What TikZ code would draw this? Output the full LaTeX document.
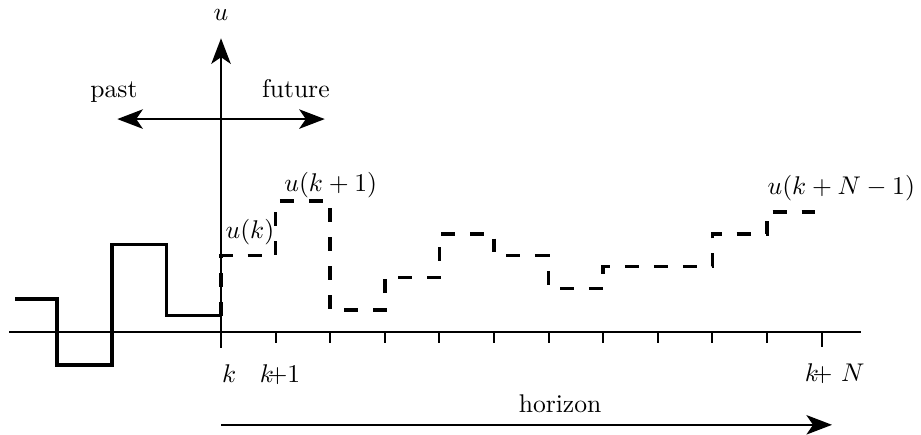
\documentclass[tikz,border=0pt]{standalone}
\usetikzlibrary{arrows.meta}
\tikzset{
  axis/.style={line width=0.8pt},
  tip/.style={-{Stealth[length=10pt,width=7.6pt,inset=2.6pt]}},
  signal/.style={line width=1.4pt},
  predicted/.style={signal,dash pattern=on 5.4pt off 5.9pt}
}
\begin{document}
\begin{tikzpicture}[x=0.75cm,y=0.75cm]
  \useasboundingbox (-4.048,-1.868) rectangle (12.82,6.081);
  % axes and ticks
  \draw[axis] (-3.88,0) -- (11.72,0);
  \coordinate (utop) at (0,5.38);
  \draw[axis,tip] (0,-0.29) -- (utop);
  \foreach \t in {1,...,10}
   \draw[axis] (\t,0) -- (\t,-0.2);
  \draw[axis] (11,0) -- (11,-0.28);
  % past and future
  \coordinate (pastend) at (-1.9,3.9);
  \coordinate (futend) at (1.9,3.9);
  \draw[axis,tip] (0,3.9) -- (pastend);
  \draw[axis,tip] (0,3.9) -- (futend);
  \node[anchor=base] (ulab) at (0,5.70) {$u$};
  \node[anchor=base] (past) at (-1.96,4.30) {past};
  \node[anchor=base] (future) at (1.37,4.30) {future};
  % applied input
  \draw[signal] (-3.77,0.6) -- (-3,0.6) -- (-3,-0.6) -- (-2,-0.6) -- (-2,1.6)
   -- (-1,1.6) -- (-1,0.3) -- (0,0.3);
  % predicted input
  \draw[predicted] (0,0.3) -- (0,1.4) -- (1,1.4) -- (1,2.4) -- (2,2.4) -- (2,0.4)
   -- (3,0.4) -- (3,1.0) -- (4,1.0) -- (4,1.8) -- (5,1.8) -- (5,1.4) -- (6,1.4)
   -- (6,0.8) -- (7,0.8) -- (7,1.2) -- (9,1.2) -- (9,1.8) -- (10,1.8) -- (10,2.2)
   -- (11,2.2);
  \node[anchor=base] (uk) at (0.53,1.72) {$u(k)$};
  \node[anchor=base] (uk1) at (2.01,2.58) {$u(k+1)$};
  \node[anchor=base] (ukN) at (11.36,2.51) {$u(k+N-1)$};
  % time labels
  \node[anchor=base] (tk) at (0.15,-0.93) {$k$};
  \node[anchor=base] (tk1) at (1.08,-0.93) {$k$\kern-2.5pt+1};
  \node[anchor=base] (tkN) at (11.24,-0.91) {$k$\kern-2.5pt+ $N$};
  \coordinate (hstart) at (0,-1.70);
  \coordinate (hend) at (11.19,-1.70);
  \draw[axis,tip] (hstart) -- (hend);
  \node[anchor=base] (horizon) at (6.21,-1.48) {horizon};
\end{tikzpicture}
\end{document}
